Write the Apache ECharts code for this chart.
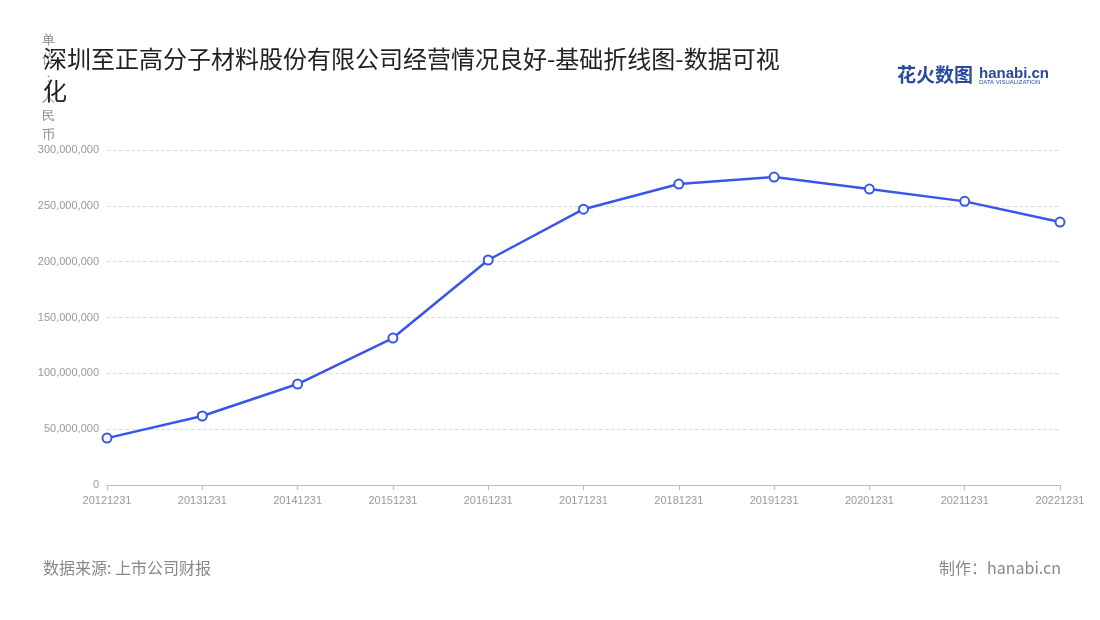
<!DOCTYPE html>
<html><head><meta charset="utf-8">
<script src="https://cdn.jsdelivr.net/npm/echarts@6/dist/echarts.min.js"></script>
<style>body{margin:0}#c{width:1100px;height:620px}</style></head>
<body><div id="c"></div>
<script>
const categories = ['20121231','20131231','20141231','20151231','20161231','20171231','20181231','20191231','20201231','20211231','20221231'];
const values = [42000000,61800000,90400000,131600000,201500000,247000000,269500000,275800000,265000000,254000000,235500000];
const chart = echarts.init(document.getElementById('c'));
chart.setOption({
  backgroundColor:'#fff',
  title:[{text:'深圳至正高分子材料股份有限公司经营情况良好-基础折线图-数据可视化',left:38,top:38,
    textStyle:{fontSize:24,fontWeight:'normal',color:'#222',width:740,overflow:'break',lineHeight:32,fontFamily:'Noto Sans CJK SC'}},
    {text:'数据来源: 上市公司财报',left:38,top:555,textStyle:{fontSize:16,fontWeight:'normal',color:'#888',fontFamily:'Noto Sans CJK SC'}},
    {text:'制作：hanabi.cn',right:34,top:555,textStyle:{fontSize:16,fontWeight:'normal',color:'#888',fontFamily:'Noto Sans CJK SC'}},
    {text:'花火数图',left:892,top:60,textStyle:{fontSize:19,fontWeight:'bold',color:'#2a4a9c',fontFamily:'Noto Sans CJK SC'}},
    {text:'hanabi.cn',left:974,top:61,textStyle:{fontSize:15,fontWeight:'bold',color:'#2a4a9c'},subtext:'DATA VISUALIZATION',itemGap:-2,subtextStyle:{fontSize:6,color:'#2a4a9c'}}
  ],
  grid:{left:107,right:40,top:150,bottom:135},
  xAxis:{type:'category',data:categories,boundaryGap:false,
    axisLine:{lineStyle:{color:'#bbb'}},axisTick:{show:true,lineStyle:{color:'#bbb'}},
    axisLabel:{color:'#999',fontSize:11,margin:10}},
  yAxis:{type:'value',min:0,max:300000000,interval:50000000,
    name:'单\n位\n：\n人\n民\n币',nameLocation:'end',nameGap:-118,nameTextStyle:{color:'#888',fontSize:13,lineHeight:19,align:'left',padding:[0,0,0,-65]},
    axisLine:{show:false},axisTick:{show:false},
    axisLabel:{color:'#999',fontSize:11,formatter:v=>v.toLocaleString('en-US')},
    splitLine:{lineStyle:{type:'dashed',color:'#ddd'}}},
  series:[{type:'line',data:values,symbol:'circle',symbolSize:9,
    lineStyle:{color:'#3a56e8',width:2.5},
    itemStyle:{color:'#fff',borderColor:'#3a56e8',borderWidth:2}}]
});
</script></body></html>
